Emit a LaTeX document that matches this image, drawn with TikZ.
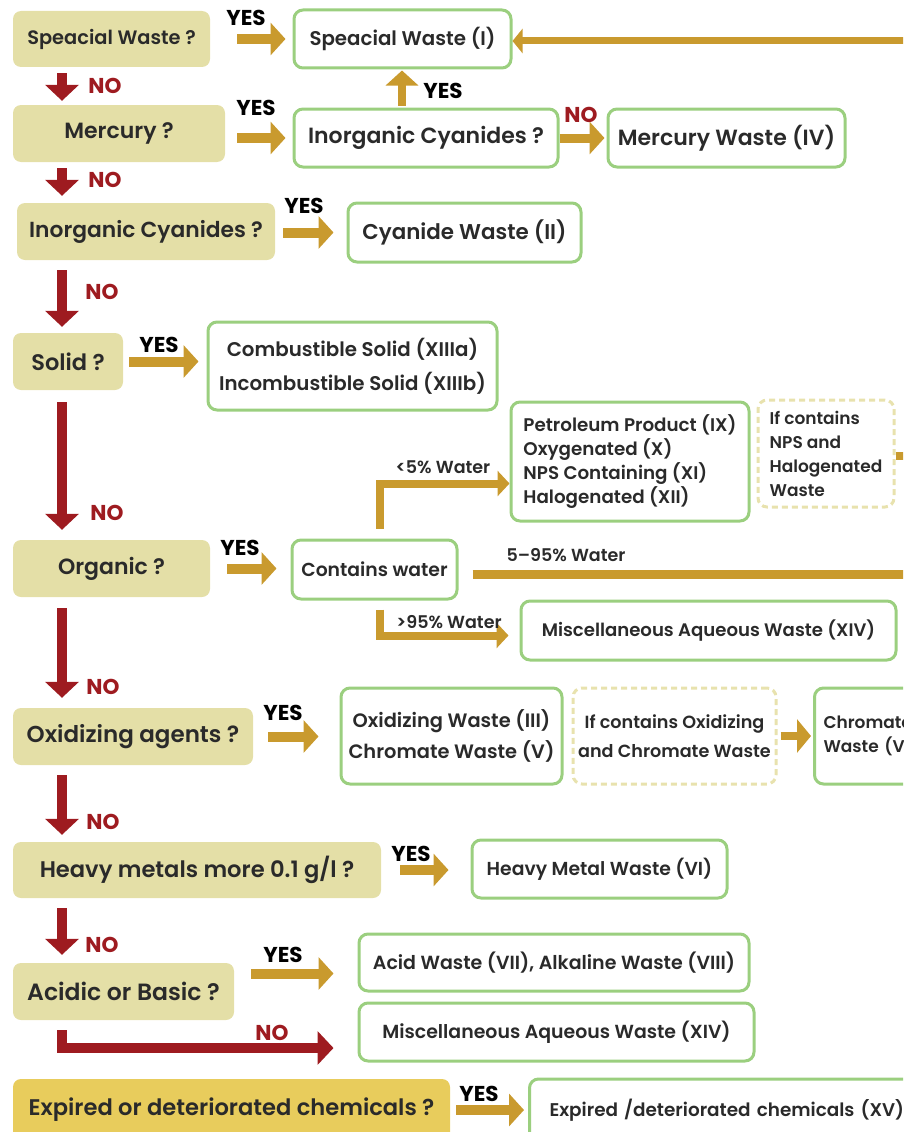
\documentclass[tikz,border=0pt]{standalone}
\usepackage{fontspec}
\setmainfont{Poppins}[UprightFont=* SemiBold, BoldFont=* Bold]
\usetikzlibrary{arrows.meta}
\definecolor{askFill}{HTML}{E4DFA7}
\definecolor{expiredFill}{HTML}{E8CC5C}
\definecolor{resultEdge}{HTML}{9BCF7F}
\definecolor{hintEdge}{HTML}{E8E2AE}
\definecolor{goldArrow}{HTML}{C99A2E}
\definecolor{noRed}{HTML}{9E1B20}
\definecolor{inkText}{HTML}{2A2A2A}

\begin{document}
\begin{tikzpicture}[
  x=1pt,
  y=-1pt,
  ask/.style={
    fill=askFill,
    rounded corners=8pt,
    text=inkText,
    inner sep=0pt,
    font=\fontsize{22}{26}\selectfont,
  },
  result/.style={
    draw=resultEdge,
    line width=3pt,
    fill=white,
    rounded corners=9pt,
    text=inkText,
    inner sep=0pt,
    align=center,
    font=\fontsize{19}{22}\selectfont,
  },
  hint/.style={
    draw=hintEdge,
    line width=3pt,
    dash pattern=on 6pt off 4pt,
    rounded corners=9pt,
    text=inkText,
    inner sep=0pt,
    align=left,
  },
  yes arrow/.style={
    draw=goldArrow,
    line width=10pt,
    -{Triangle[length=15pt,width=32pt]},
  },
  no arrow/.style={
    draw=noRed,
    line width=10pt,
    -{Triangle[length=16pt,width=33pt]},
  },
  water arrow/.style={
    draw=goldArrow,
    line width=8pt,
    -{Triangle[length=12pt,width=25pt]},
  },
  yes label/.style={
    text=black,
    inner sep=0pt,
    font=\fontsize{21.5}{22}\selectfont\bfseries,
  },
  no label/.style={
    text=noRed,
    inner sep=0pt,
    font=\fontsize{21.5}{22}\selectfont\bfseries,
  },
  water label/.style={
    text=inkText,
    inner sep=0pt,
    font=\fontsize{17.5}{18}\selectfont,
  },
]
\useasboundingbox (0,0) rectangle (903,1132);
\clip (0,0) rectangle (903,1132);

% questions down the left side
\node[ask, minimum width=197pt, minimum height=56pt, font=\fontsize{19.4}{23}\selectfont]
  (special) at (111.5,39) {Speacial Waste ?};
\node[ask, minimum width=212pt, minimum height=57pt] (mercury) at (119,133.5) {Mercury ?};
\node[ask, minimum width=258pt, minimum height=57pt, font=\fontsize{21.8}{26}\selectfont]
  (cyanide) at (146,231.5) {Inorganic Cyanides ?};
\node[ask, minimum width=110pt, minimum height=57pt, font=\fontsize{22.5}{26}\selectfont]
  (solid) at (68,361.5) {Solid ?};
\node[ask, minimum width=197pt, minimum height=57pt] (organic) at (111.5,568.5) {Organic ?};
\node[ask, minimum width=240pt, minimum height=57pt, font=\fontsize{23}{27}\selectfont]
  (oxidizer) at (133,736.5) {Oxidizing agents ?};
\node[ask, minimum width=368pt, minimum height=56pt, font=\fontsize{22.6}{27}\selectfont]
  (heavy) at (197,870) {Heavy metals more 0.1 g/l ?};
\node[ask, minimum width=221pt, minimum height=57pt, font=\fontsize{23.5}{27}\selectfont]
  (acidic) at (123.5,991.5) {Acidic or Basic ?};
\node[ask, fill=expiredFill, minimum width=437pt, minimum height=62pt, font=\fontsize{22.6}{27}\selectfont]
  (expired) at (231.5,1110) {Expired or deteriorated chemicals ?};

% waste classes
\node[result, minimum width=217pt, minimum height=58pt, font=\fontsize{19.8}{23}\selectfont]
  (wasteI) at (402.5,39) {Speacial Waste (I)};
\node[result, minimum width=264pt, minimum height=58pt, font=\fontsize{22}{26}\selectfont]
  (cyanideCheck) at (426,138) {Inorganic Cyanides ?};
\node[result, minimum width=237pt, minimum height=58pt, font=\fontsize{22}{26}\selectfont]
  (wasteIV) at (726.5,138) {Mercury Waste (IV)};
\node[result, minimum width=233pt, minimum height=59pt, font=\fontsize{21.4}{25}\selectfont]
  (wasteII) at (464.5,232.5) {Cyanide Waste (II)};
\node[result, minimum width=289pt, minimum height=88pt, font=\fontsize{19.8}{34}\selectfont]
  (wasteXIII) at (352.5,366) {Combustible Solid (XIIIa)\\Incombustible Solid (XIIIb)};
\node[result, align=left, minimum width=238pt, minimum height=119pt, font=\fontsize{18.3}{24}\selectfont]
  (solvent) at (630,461.5) {Petroleum Product (IX)\\Oxygenated (X)\\NPS Containing (XI)\\Halogenated (XII)};
\node[hint, minimum width=136pt, minimum height=107pt, font=\fontsize{17}{24}\selectfont]
  (npsHint) at (826,453.5) {If contains\\NPS and\\Halogenated\\Waste};
\node[result, minimum width=165pt, minimum height=59pt, font=\fontsize{18.8}{22}\selectfont]
  (water) at (374.5,569.5) {Contains water};
\node[result, minimum width=375pt, minimum height=59pt, font=\fontsize{18.1}{22}\selectfont]
  (wasteXIVa) at (708.5,630.5) {Miscellaneous Aqueous Waste (XIV)};
\node[result, minimum width=221pt, minimum height=96pt, font=\fontsize{19.4}{31}\selectfont]
  (wasteOx) at (451.5,736) {Oxidizing Waste (III)\\Chromate Waste (V)};
\node[hint, align=center, minimum width=203pt, minimum height=96pt, font=\fontsize{17.6}{29}\selectfont]
  (oxHint) at (674.5,736) {If contains Oxidizing\\and Chromate Waste};
\node[result, anchor=west, align=left, inner xsep=9pt, text width=140pt, minimum height=96pt,
  font=\fontsize{17}{24}\selectfont] (wasteV) at (813,736) {Chromate\\Waste (V)};
\node[result, minimum width=255pt, minimum height=58pt, font=\fontsize{18.8}{22}\selectfont]
  (wasteVI) at (599.5,869) {Heavy Metal Waste (VI)};
\node[result, minimum width=390pt, minimum height=57pt, font=\fontsize{19}{22}\selectfont]
  (wasteAcid) at (554,962.5) {Acid Waste (VII), Alkaline Waste (VIII)};
\node[result, minimum width=395pt, minimum height=58pt, font=\fontsize{18.9}{22}\selectfont]
  (wasteXIVb) at (556.5,1032) {Miscellaneous Aqueous Waste (XIV)};
\node[result, anchor=west, align=left, inner xsep=20pt, text width=400pt, minimum height=62pt,
  font=\fontsize{18.4}{22}\selectfont] (wasteXV) at (528,1110) {Expired /deteriorated chemicals (XV)};

% ends that leave the picture
\coordinate (spine) at (62,0);
\coordinate (offTop) at (915,41);
\coordinate (offMid) at (915,574);
\coordinate (offNps) at (930,456);

% NO branch
\draw[no arrow, shorten <=6pt, shorten >=4pt] (special.south -| spine) -- (mercury.north -| spine);
\draw[no arrow, shorten <=6pt, shorten >=7pt] (mercury.south -| spine) -- (cyanide.north -| spine);
\draw[no arrow, shorten <=10pt, shorten >=6pt] (cyanide.south -| spine) -- (solid.north -| spine);
\draw[no arrow, shorten <=12pt, shorten >=10pt] (solid.south -| spine) -- (organic.north -| spine);
\draw[no arrow, shorten <=11pt, shorten >=10pt] (organic.south -| spine) -- (oxidizer.north -| spine);
\draw[no arrow, shorten <=10pt, shorten >=7pt] (oxidizer.south -| spine) -- (heavy.north -| spine);
\draw[no arrow, shorten <=10pt, shorten >=8pt] (heavy.south -| spine) -- (acidic.north -| spine);
\draw[no arrow, shorten <=10pt, shorten >=24pt] (acidic.south -| spine) |- ([yshift=-16pt]wasteXIVb.west);

% YES branch
\draw[yes arrow, shorten <=27pt, shorten >=7pt] (special.east) -- (wasteI.west);
\draw[yes arrow, shorten <=12pt, shorten >=7pt] (mercury.east |- cyanideCheck.west) -- (cyanideCheck.west);
\draw[yes arrow, shorten <=8pt, shorten >=13pt] (cyanide.east |- wasteII.west) -- (wasteII.west);
\draw[yes arrow, shorten <=6pt, shorten >=8pt] (solid.east) -- (solid.east -| wasteXIII.west);
\draw[yes arrow, shorten <=17pt, shorten >=14pt] (organic.east) -- (organic.east -| water.west);
\draw[yes arrow, shorten <=15pt, shorten >=21pt] (oxidizer.east) -- (oxidizer.east -| wasteOx.west);
\draw[yes arrow, shorten <=19pt, shorten >=22pt] (heavy.east) -- (heavy.east -| wasteVI.west);
\draw[yes arrow, shorten <=17pt, shorten >=24pt] ([yshift=-11pt]wasteAcid.west -| acidic.east) -- ([yshift=-11pt]wasteAcid.west);
\draw[yes arrow, shorten <=6pt, shorten >=4pt] (expired.east |- wasteXV.west) -- (wasteXV.west);
\draw[yes arrow, line width=8pt, shorten <=2pt, shorten >=1pt] ([xshift=-24pt]cyanideCheck.north) -- ([xshift=-24pt]cyanideCheck.north |- wasteI.south);
\draw[yes arrow, line width=9pt, shorten >=2pt] (cyanideCheck.east) -- (wasteIV.west);
\draw[water arrow, line width=7pt, -{Triangle[length=10pt,width=24pt]}] (offTop) -- (offTop -| wasteI.east);

% water content
\draw[water arrow, shorten <=10pt] ([xshift=5pt]water.north) |- ([yshift=-22pt]solvent.west);
\draw[water arrow, line width=9pt, -, shorten <=14pt] (offMid -| water.east) -- (offMid);
\draw[water arrow, shorten <=9pt, shorten >=11pt] ([xshift=5pt]water.south) |- ([yshift=-5pt]wasteXIVa.west);
\draw[water arrow] (npsHint.east |- offNps) -- (offNps);
\draw[water arrow, -{Triangle[length=14pt,width=33pt]}, shorten <=3pt, shorten >=2pt] (oxHint.east) -- (wasteV.west);

% labels
\node[yes label] (yesSpecial) at (246,18) {YES};
\node[yes label] (yesMercury) at (256,108) {YES};
\node[yes label] (yesCyanide) at (304,206) {YES};
\node[yes label] (yesSolid) at (159,345) {YES};
\node[yes label] (yesOrganic) at (240,548) {YES};
\node[yes label] (yesOxidizer) at (283,713) {YES};
\node[yes label] (yesHeavy) at (411,854) {YES};
\node[yes label] (yesAcidic) at (283,955) {YES};
\node[yes label] (yesExpired) at (479,1094) {YES};
\node[yes label] (yesCheck) at (443,91) {YES};
\node[no label] (noSpecial) at (105,86) {NO};
\node[no label] (noMercury) at (105,180) {NO};
\node[no label] (noCyanide) at (102,292) {NO};
\node[no label] (noSolid) at (107,513) {NO};
\node[no label] (noOrganic) at (103,687) {NO};
\node[no label] (noOxidizer) at (103,822) {NO};
\node[no label] (noHeavy) at (102,945) {NO};
\node[no label] (noAcidic) at (272,1033) {NO};
\node[no label] (noCheck) at (581,115) {NO};
\node[water label] (lowWater) at (443,467) {<5\% Water};
\node[water label] (midWater) at (566,555) {5–95\% Water};
\node[water label] (highWater) at (449,622) {>95\% Water};
\end{tikzpicture}
\end{document}
